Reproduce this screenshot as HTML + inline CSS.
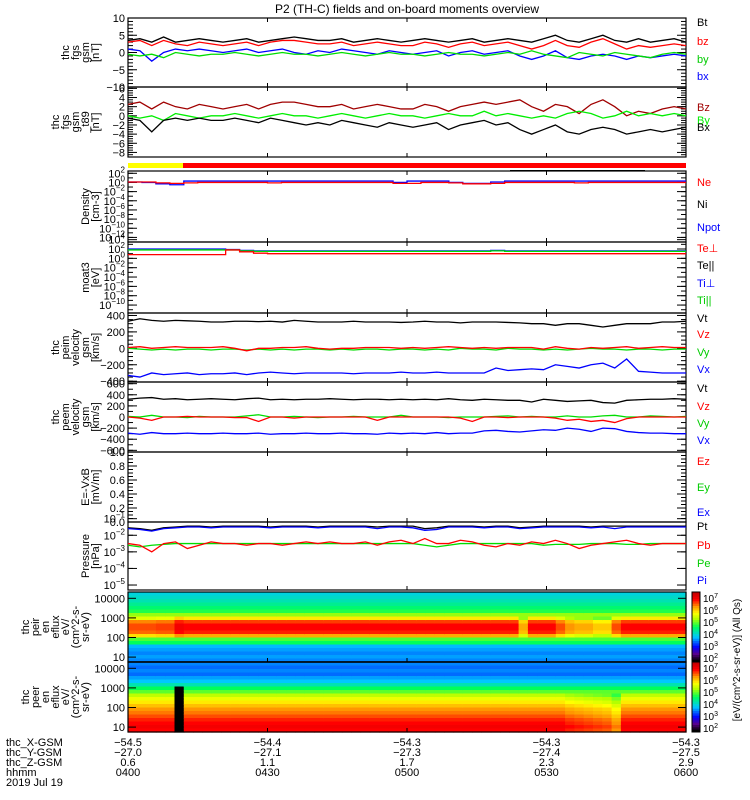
<!DOCTYPE html>
<html><head><meta charset="utf-8">
<style>
html,body{margin:0;padding:0;background:#fff;}
svg{display:block;font-family:"Liberation Sans",sans-serif;}
</style></head>
<body>
<svg id="chart" width="750" height="800" viewBox="0 0 750 800" xmlns="http://www.w3.org/2000/svg">
<rect x="0" y="0" width="750" height="800" fill="#fff"/>
<text x="407" y="13" font-size="12" text-anchor="middle">P2 (TH-C) fields and on-board moments overview</text>
</svg>
<script>
// ---------- data ----------
const timeTicks = ["0400","0430","0500","0530","0600"];
const xTicks = ["-54.5","-54.4","-54.3","-54.3","-54.3"];
const yTicksPos = ["-27.0","-27.1","-27.3","-27.4","-27.5"];
const zTicks = ["0.6","1.1","1.7","2.3","2.9"];

const fgsBt = [3.5,4,3,4.5,3,3.5,4,3.5,3,3.5,4,3,3.5,4,4.5,4,3.5,3.5,4,3,3.5,4,3.5,3,3.5,4,3.5,3,3.5,4,3,3.5,4,3.5,3,4,5,3.5,3,4,5,3.5,3,4,3,3.5,4,3];
const fgsBz = [3,3.5,2,3.5,2.5,2,3,2.5,2,2.5,3,2,3,3.5,3.5,3,2.5,2.5,3,2,2.5,3,2.5,2,2,3,2.5,1.5,2.5,3,2,2.5,3,2,1,2,3.5,2,1.5,3,4,2.5,1,2,1.5,2,2.5,2];
const fgsBy = [-0.5,-1,-0.5,-1.5,0,-0.5,-1,-0.5,-0.5,0,-0.5,-1,-0.5,0,-0.5,-0.5,-1,-0.5,0,-0.5,-1,-0.5,0,-0.5,-0.5,-1,-0.5,0,-0.5,-0.5,-1,-0.5,0,-0.5,0.5,-0.5,-1,-1.5,0,-0.5,-1,0,-0.5,-1,-1.5,-0.5,0,-0.5];
const fgsBx = [1,0.5,-2.5,0,1,0.5,1,0.5,0,0.5,1,0,0.5,1,0,-0.5,0.5,0,1,0.5,0,-0.5,0.5,0,-0.5,0,0.5,-1,0,0.5,-0.5,0,0.5,-1,-2,-1,0.5,-1.5,-2,-1,-0.5,-1,-2,-1,-1.5,-1,-0.5,-1];

const gsmBz = [2.5,3,1.5,3,2,1.5,2.5,2,1.5,2,2.5,1.5,2.5,3,3,2.5,2,2,2.5,1.5,2,2.5,2,1.5,1.5,2.5,2,1,2,2.5,3,2.5,3,3.5,2,1,2.5,2,0.5,2.5,3.5,2,0,1,0.5,1.5,2,1.5];
const gsmBy = [0,-0.5,0,-1,0.5,0,-0.5,0,0,0.5,0,-0.5,0,0.5,0,0,-0.5,0,0.5,0,-0.5,0,0.5,0,0,-0.5,0,0.5,0,0,1,0,0.5,0,-0.5,0,-0.5,0.5,1,0.5,-0.5,0,1,0,0.5,0,0.5,0];
const gsmBx = [-0.5,-1,-3.5,-1,-0.5,-1,-0.5,-1,-1,-0.5,-1,-1.5,-0.5,-1,-1.5,-2,-1.5,-2,-1,-1.5,-2,-2.5,-1.5,-2,-2.5,-2,-1.5,-3,-2,-1.5,-1,-2,-1.5,-3,-4,-3,-2,-3.5,-4,-3,-2.5,-3,-4,-3.5,-3,-3.5,-3,-2.5];

// log10 values
const densNe = [0.1,0.1,-0.1,-0.2,-0.1,0,0,0,0,0,-0.1,0,0,0,0,0,0,0,0,-0.2,-0.2,0,0,-0.1,-0.3,-0.3,-0.2,0,0,0,0,0,-0.1,0,0,0,0,0,0,0,0];
const densNpot = [0.1,0,-0.3,-0.5,0.3,0.3,0.3,0.3,0.3,0.3,0.3,0.3,0.3,0.3,0.3,0.3,0.3,0.3,0.3,0,0.3,0.3,0.3,0,-0.2,-0.2,0.1,0.3,0.3,0.3,0.3,0.3,0.3,0.3,0.3,0.3,0.3,0.3,0.3,0.3,0.3];
const moatTeperp = [0.8,0.8,0.8,0.8,0.8,0.8,0.8,1.8,1.4,1.1,1,1,1,1,1,1,1,1,1,1,1,1,1,1,1,1,1,1,1,1,1,1,1,1,1,1,1,1,1,1,1];
const moatTipar = [1.8,1.8,1.8,1.8,1.8,1.8,1.8,1.8,1.6,1.5,1.5,1.5,1.5,1.5,1.5,1.5,1.5,1.5,1.5,1.5,1.5,1.5,1.5,1.5,1.5,1.5,1.6,1.5,1.5,1.5,1.5,1.5,1.5,1.5,1.5,1.5,1.5,1.5,1.5,1.5,1.5];
const moatTiperp = [2,2,2,2,2,2,2,1.9,1.7,1.6,1.6,1.6,1.6,1.6,1.6,1.6,1.6,1.6,1.6,1.6,1.6,1.6,1.6,1.6,1.6,1.6,1.7,1.6,1.6,1.6,1.6,1.6,1.6,1.6,1.6,1.6,1.6,1.6,1.6,1.6,1.6];

const peimVt = [330,360,340,330,340,335,330,320,320,330,330,325,330,320,340,330,320,320,320,330,320,320,320,315,320,330,320,320,310,320,320,320,315,310,300,300,280,300,300,280,260,280,300,300,300,320,320,330];
const peimVz = [10,20,0,10,20,10,10,10,20,0,-30,0,0,10,10,20,0,-10,0,0,10,10,10,0,10,0,10,20,10,0,10,0,10,10,10,-10,20,0,-10,10,0,10,20,0,10,20,10,10];
const peimVy = [0,-10,-20,-10,-20,-10,-10,-20,-10,-10,-20,-10,-20,-10,-20,-10,-10,-20,-10,-20,-10,-10,-20,-10,-10,-20,-10,-20,0,-10,-10,-20,0,-10,-10,-20,-10,-20,-10,0,-10,-10,-20,-10,-10,-20,-10,-10];
const peimVx = [-330,-350,-300,-320,-310,-300,-320,-310,-310,-300,-320,-300,-290,-300,-310,-300,-300,-300,-300,-310,-300,-300,-300,-290,-300,-300,-290,-300,-300,-300,-300,-240,-270,-260,-250,-260,-200,-220,-240,-200,-180,-240,-130,-280,-290,-300,-300,-300];

const peemVt = [320,340,350,320,330,310,320,330,320,310,330,340,310,320,310,320,320,330,320,310,320,320,310,320,310,320,310,330,310,300,320,310,300,300,270,320,300,280,290,300,260,250,300,310,320,320,330,320];
const peemVz = [0,-20,-60,0,0,10,0,0,0,-10,-10,-80,0,0,-20,0,0,0,0,0,0,-60,0,0,0,0,0,0,-20,-80,0,0,-10,0,0,0,-20,-60,-40,-80,-60,-100,-30,0,0,0,0,0];
const peemVy = [10,0,30,0,0,-10,10,0,0,0,20,40,0,0,10,0,-10,0,0,10,0,0,0,30,0,0,0,-10,0,0,0,10,20,0,10,0,0,20,0,0,20,30,0,0,20,10,0,10];
const peemVx = [-290,-310,-280,-300,-300,-290,-300,-300,-290,-300,-300,-290,-310,-300,-300,-290,-300,-300,-290,-300,-300,-310,-290,-300,-290,-300,-280,-300,-290,-290,-250,-240,-260,-270,-250,-230,-240,-200,-220,-260,-200,-210,-260,-280,-290,-290,-300,-300];

const presPt = [-1.55,-1.6,-1.7,-1.55,-1.5,-1.45,-1.45,-1.5,-1.45,-1.45,-1.45,-1.45,-1.5,-1.45,-1.45,-1.45,-1.5,-1.45,-1.45,-1.45,-1.45,-1.5,-1.45,-1.45,-1.45,-1.6,-1.55,-1.45,-1.45,-1.45,-1.5,-1.45,-1.45,-1.55,-1.5,-1.45,-1.45,-1.45,-1.45,-1.5,-1.45,-1.45,-1.45,-1.45,-1.45,-1.45,-1.45,-1.45];
const presPi = [-1.6,-1.65,-1.75,-1.6,-1.55,-1.5,-1.5,-1.55,-1.5,-1.5,-1.5,-1.5,-1.55,-1.5,-1.5,-1.5,-1.55,-1.5,-1.5,-1.5,-1.5,-1.6,-1.5,-1.5,-1.55,-1.7,-1.65,-1.5,-1.5,-1.5,-1.55,-1.5,-1.5,-1.6,-1.55,-1.5,-1.5,-1.5,-1.5,-1.55,-1.5,-1.6,-1.5,-1.5,-1.5,-1.5,-1.5,-1.5];
const presPb = [-2.5,-2.6,-3.0,-2.5,-2.4,-2.8,-2.6,-2.4,-2.5,-2.5,-2.6,-2.5,-2.5,-2.6,-2.5,-2.4,-2.5,-2.4,-2.5,-2.5,-2.4,-2.6,-2.4,-2.3,-2.5,-2.2,-2.5,-2.5,-2.3,-2.4,-2.6,-2.7,-2.5,-2.6,-2.4,-2.5,-2.3,-2.5,-2.8,-2.6,-2.5,-2.4,-2.3,-2.5,-2.6,-2.5,-2.5,-2.5];
const presPe = [-2.6,-2.7,-2.6,-2.55,-2.5,-2.5,-2.5,-2.5,-2.5,-2.5,-2.5,-2.5,-2.5,-2.5,-2.5,-2.5,-2.5,-2.5,-2.5,-2.5,-2.5,-2.5,-2.5,-2.5,-2.5,-2.6,-2.7,-2.6,-2.5,-2.5,-2.5,-2.5,-2.5,-2.5,-2.5,-2.6,-2.55,-2.55,-2.55,-2.5,-2.5,-2.5,-2.55,-2.55,-2.5,-2.5,-2.5,-2.5];

// spectrogram colour levels (0..1), rows top -> bottom
const peirProfile = [0.38,0.4,0.42,0.45,0.48,0.52,0.6,0.72,0.86,0.9,0.9,0.88,0.78,0.55,0.5,0.34,0.32,0.3,0.32,0.3];
const peerProfile = [0.3,0.28,0.3,0.28,0.32,0.35,0.42,0.5,0.56,0.63,0.68,0.72,0.76,0.8,0.82,0.85,0.88,0.9,0.92,0.9];
// gain applied only to the bright bands
const peirGain = [-0.05,-0.05,-0.05,-0.04,-0.04,0.02,0,0,0,0,0,0,0,0,0,0,0,0,0,0,0,0,0,0,0,0,0,0,0,0,0,0,0,0,0,0,0,0,0,0,0,0,-0.12,0,0,0,-0.05,-0.1,-0.12,-0.12,-0.15,-0.15,-0.05,0,0,0,0,0,0,0];
const peerGain = [0,0,0,0,0,0,0,0,0,0,0,0,0,0,0,0,0,0,0,0,0,0,0,0,0,0,0,0,0,0,0,0,0,0,0,0,0,0,0,0,0,0,0,0,0,0,0,-0.02,-0.03,-0.04,-0.05,-0.06,-0.1,0,0,0,0,0,0,0];
const peerGapCols = [5];

// ---------- layout ----------
const X0 = 128, X1 = 686;
const svg = document.getElementById('chart');
const NS = 'http://www.w3.org/2000/svg';
function el(tag, attrs, parent) {
  const e = document.createElementNS(NS, tag);
  for (const k in attrs) e.setAttribute(k, attrs[k]);
  (parent || svg).appendChild(e);
  return e;
}
function xAt(i, n) { return X0 + i / (n - 1) * (X1 - X0); }
function yLin(v, p) { return p.bot - (v - p.min) / (p.max - p.min) * (p.bot - p.top); }

const panels = [
  {key:'fgs', top:18, bot:87, min:-10, max:10, ticks:[10,5,0,-5,-10], minor:1, log:false,
   label:['thc','fgs','gsm','[nT]']},
  {key:'fgs-gsm', top:87, bot:157, min:-9, max:6.3, ticks:[6,4,2,0,-2,-4,-6,-8], minor:0.5, log:false,
   label:['thc','fgs','gsm','_t89','[nT]']},
  {key:'density', top:171, bot:242, min:-13, max:2.5, ticks:[2,0,-2,-4,-6,-8,-10,-12], minor:1, log:true,
   label:['Density','[cm-3]']},
  {key:'moat3', top:242, bot:313, min:-11.7, max:3.5, ticks:[4,2,0,-2,-4,-6,-8,-10], minor:1, log:true,
   label:['moat3','[eV]']},
  {key:'peim', top:313, bot:382, min:-410, max:430, ticks:[400,200,0,-200,-400], minor:50, log:false,
   label:['thc','peim','velocity','gsm','[km/s]']},
  {key:'peem', top:382, bot:452, min:-630, max:630, ticks:[600,400,200,0,-200,-400,-600], minor:100, log:false,
   label:['thc','peem','velocity','gsm','[km/s]']},
  {key:'efield', top:452, bot:522, min:0, max:1, ticks:[1,0.8,0.6,0.4,0.2,0], minor:0.05, log:false, fmt:1,
   label:['E=-VxB','[mV/m]']},
  {key:'pressure', top:522, bot:590, min:-5.3, max:-1.2, ticks:[-1,-2,-3,-4,-5], minor:1, log:true,
   label:['Pressure','[nPa]']},
];

panels.forEach(p => {
  const g = el('g', {});
  
  
  const fr = el('rect', {x:X0, y:p.top, width:X1-X0, height:p.bot-p.top, fill:'none', stroke:'#000', 'stroke-width':1.2}, g);
  
  
  for (let v = Math.ceil(p.min / p.minor) * p.minor; v <= p.max + 1e-9; v += p.minor) {
    const y = yLin(v, p);
    el('line', {x1:X0, x2:X0+5, y1:y, y2:y, stroke:'#000'}, g);
    el('line', {x1:X1-5, x2:X1, y1:y, y2:y, stroke:'#000'}, g);
  }
  p.ticks.forEach(v => {
    const y = yLin(v, p);
    el('line', {x1:X0, x2:X0+9, y1:y, y2:y, stroke:'#000'}, g);
    el('line', {x1:X1-9, x2:X1, y1:y, y2:y, stroke:'#000'}, g);
    const t = el('text', {x:X0-3, y:y+4, 'font-size':11, 'text-anchor':'end'}, g);
    
    
    if (p.log) {
      t.textContent = '10';
      const s = el('tspan', {dy:-5, 'font-size':8}, t);
      s.textContent = String(v).replace('-', '\u2212');
    } else {
      t.textContent = (p.fmt ? v.toFixed(1) : String(v)).replace('-', '\u2212');
    }
  });
  timeTicks.forEach((tt, i) => {
    const x = X0 + i * (X1 - X0) / 4;
    el('line', {x1:x, x2:x, y1:p.top, y2:p.top+4, stroke:'#000'}, g);
    el('line', {x1:x, x2:x, y1:p.bot-4, y2:p.bot, stroke:'#000'}, g);
  });
  const n = p.label.length;
  const cy = (p.top + p.bot) / 2;
  const startX = 100 - n * 10;
  p.label.forEach((ln, i) => {
    const x = startX + i * 10 + 9;
    const t = el('text', {x:x, y:cy, 'font-size':11, 'text-anchor':'middle', transform:'rotate(-90 ' + x + ' ' + cy + ')'}, g);
    
    
    t.textContent = ln;
  });
  p.g = g;
});

function drawSeries(p, arr, color, name, step) {
  const n = arr.length;
  let d = '';
  arr.forEach((v, i) => {
    const x = xAt(i, n), y = yLin(v, p);
    if (i === 0) d += 'M' + x + ' ' + y;
    else if (step) d += 'H' + x + 'V' + y;
    else d += 'L' + x + ' ' + y;
  });
  const path = el('path', {d:d, fill:'none', stroke:color, 'stroke-width':1.3}, p.g);
  
  
}
const P = {}; panels.forEach(p => P[p.key] = p);
drawSeries(P['fgs'], fgsBx, '#0000ff', 'bx-line');
drawSeries(P['fgs'], fgsBy, '#00dd00', 'by-line');
drawSeries(P['fgs'], fgsBz, '#ff0000', 'bz-line');
drawSeries(P['fgs'], fgsBt, '#000000', 'bt-line');
drawSeries(P['fgs-gsm'], gsmBz, '#a00000', 'gsm-bz-line');
drawSeries(P['fgs-gsm'], gsmBy, '#00ee00', 'gsm-by-line');
drawSeries(P['fgs-gsm'], gsmBx, '#000000', 'gsm-bx-line');
drawSeries(P['density'], densNpot, '#0000ff', 'npot-line', true);
drawSeries(P['density'], densNe, '#ff0000', 'ne-line', true);
drawSeries(P['moat3'], moatTiperp, '#0000ff', 'ti-perp-line', true);
drawSeries(P['moat3'], moatTipar, '#00dd00', 'ti-par-line', true);
drawSeries(P['moat3'], moatTeperp, '#ff0000', 'te-perp-line', true);
drawSeries(P['peim'], peimVt, '#000000', 'peim-vt-line');
drawSeries(P['peim'], peimVy, '#00dd00', 'peim-vy-line');
drawSeries(P['peim'], peimVz, '#ff0000', 'peim-vz-line');
drawSeries(P['peim'], peimVx, '#0000ff', 'peim-vx-line');
drawSeries(P['peem'], peemVt, '#000000', 'peem-vt-line');
drawSeries(P['peem'], peemVy, '#00dd00', 'peem-vy-line');
drawSeries(P['peem'], peemVz, '#ff0000', 'peem-vz-line');
drawSeries(P['peem'], peemVx, '#0000ff', 'peem-vx-line');
drawSeries(P['pressure'], presPt, '#000000', 'pt-line');
drawSeries(P['pressure'], presPi, '#0000ff', 'pi-line');
drawSeries(P['pressure'], presPe, '#00dd00', 'pe-line');
drawSeries(P['pressure'], presPb, '#ff0000', 'pb-line');

// status bar
const sy = el('rect', {x:X0, y:163, width:55, height:5, fill:'#ffff00'});


const sr = el('rect', {x:183, y:163, width:X1-183, height:5, fill:'#ff0000'});


const sb = el('rect', {x:510, y:170, width:135, height:1.5, fill:'#000'});



// ---------- spectrograms ----------
const cstops = [[0,[0,0,0]],[0.1,[90,0,140]],[0.2,[0,0,255]],[0.35,[0,200,255]],[0.5,[0,255,90]],[0.62,[180,255,0]],[0.7,[255,255,0]],[0.8,[255,150,0]],[0.9,[255,0,0]],[1,[200,0,0]]];
function cmap(t) {
  t = Math.max(0, Math.min(1, t));
  for (let i = 1; i < cstops.length; i++) {
    if (t <= cstops[i][0]) {
      const a = cstops[i-1], b = cstops[i], f = (t - a[0]) / (b[0] - a[0]);
      const c = a[1].map((v, k) => Math.round(v + (b[1][k] - v) * f));
      return 'rgb(' + c.join(',') + ')';
    }
  }
  return 'rgb(200,0,0)';
}
function spectro(key, top, bot, profile, gain, gaps, label) {
  const g = el('g', {});
  
  
  const nc = gain.length, nr = profile.length;
  const cw = (X1 - X0) / nc, rh = (bot - top) / nr;
  for (let c = 0; c < nc; c++) {
    for (let r = 0; r < nr; r++) {
      const base = profile[r];
      let col = cmap(base > 0.6 ? base + gain[c] : base);
      if (gaps.indexOf(c) >= 0 && r >= 7) col = '#000';
      const cell = el('rect', {x:X0 + c*cw, y:top + r*rh, width:cw+0.6, height:rh+0.6, fill:col}, g);
      
      
    }
  }
  const fr = el('rect', {x:X0, y:top, width:X1-X0, height:bot-top, fill:'none', stroke:'#000', 'stroke-width':1.2}, g);
  
  
  const eTicks = [["10000",0.09],["1000",0.37],["100",0.65],["10",0.93]];
  eTicks.forEach(et => {
    const y = top + et[1] * (bot - top);
    el('line', {x1:X0, x2:X0+8, y1:y, y2:y, stroke:'#000'}, g);
    el('line', {x1:X1-8, x2:X1, y1:y, y2:y, stroke:'#000'}, g);
    const t = el('text', {x:X0-3, y:y+4, 'font-size':11, 'text-anchor':'end'}, g);
    
    
    t.textContent = et[0];
  });
  timeTicks.forEach((tt, i) => {
    const x = X0 + i * (X1 - X0) / 4;
    el('line', {x1:x, x2:x, y1:bot-4, y2:bot, stroke:'#000'}, g);
  });
  const cy = (top + bot) / 2;
  label.forEach((ln, i) => {
    const x = 20 + i * 10 + 9;
    const t = el('text', {x:x, y:cy, 'font-size':11, 'text-anchor':'middle', transform:'rotate(-90 ' + x + ' ' + cy + ')'}, g);
    
    
    t.textContent = ln;
  });
  const cb = el('g', {}, g);
  
  
  const steps = 30;
  for (let s = 0; s < steps; s++) {
    el('rect', {x:692, y:top + s*(bot-top)/steps, width:8, height:(bot-top)/steps+0.5, fill:cmap(1 - s/(steps-1))}, cb);
  }
  el('rect', {x:692, y:top, width:8, height:bot-top, fill:'none', stroke:'#000'}, cb);
  ["7","6","5","4","3","2"].forEach((e, i) => {
    const y = top + 6 + i * (bot - top - 10) / 5;
    const t = el('text', {x:703, y:y+4, 'font-size':10}, cb);
    
    
    t.textContent = '10';
    const sp = el('tspan', {dy:-4, 'font-size':7}, t);
    sp.textContent = e;
  });
}
spectro('peir', 592, 662, peirProfile, peirGain, [], ['thc','peir','en','eflux','eV/','(cm^2-s-','sr-eV)']);
spectro('peer', 662, 732, peerProfile, peerGain, peerGapCols, ['thc','peer','en','eflux','eV/','(cm^2-s-','sr-eV)']);
const sep = el('line', {x1:X0, x2:X1, y1:662, y2:662, stroke:'#000', 'stroke-width':1.5});



const cbt = el('text', {x:740, y:660, 'font-size':10, 'text-anchor':'middle', transform:'rotate(-90 740 660)'});


cbt.textContent = '[eV/(cm^2-s-sr-eV)] (All Qs)';

// ---------- legends ----------
const legends = [
  ['Bt','#000',26],['bz','#ff0000',45],['by','#00cc00',63],['bx','#0000ff',80],
  ['Bz','#a00000',111],['By','#00ee00',124],['Bx','#000',131],
  ['Ne','#ff0000',186],['Ni','#000',208],['Npot','#0000ff',231],
  ['Te\u22a5','#ff0000',252],['Te||','#000',269],['Ti\u22a5','#0000ff',287],['Ti||','#00cc00',304],
  ['Vt','#000',322],['Vz','#ff0000',338],['Vy','#00cc00',356],['Vx','#0000ff',373],
  ['Vt','#000',392],['Vz','#ff0000',410],['Vy','#00cc00',427],['Vx','#0000ff',444],
  ['Ez','#ff0000',465],['Ey','#00cc00',491],['Ex','#0000ff',516],
  ['Pt','#000',530],['Pb','#ff0000',549],['Pe','#00cc00',567],['Pi','#0000ff',584]
];
legends.forEach(l => {
  const t = el('text', {x:697, y:l[2], 'font-size':11, fill:l[1]});
  
  
  t.textContent = l[0];
});

// ---------- bottom annotations ----------
const rowNames = ['thc_X-GSM','thc_Y-GSM','thc_Z-GSM','hhmm','2019 Jul 19'];
rowNames.forEach((r, i) => {
  const t = el('text', {x:6, y:746 + i*10, 'font-size':11});
  
  
  t.textContent = r;
});
[xTicks, yTicksPos, zTicks, timeTicks].forEach((arr, row) => {
  arr.forEach((v, i) => {
    const x = X0 + i * (X1 - X0) / 4;
    const t = el('text', {x:x, y:746 + row*10, 'font-size':11, 'text-anchor':'middle'});
    
    
    t.textContent = v.replace('-', '\u2212');
  });
});
</script>
</body></html>
